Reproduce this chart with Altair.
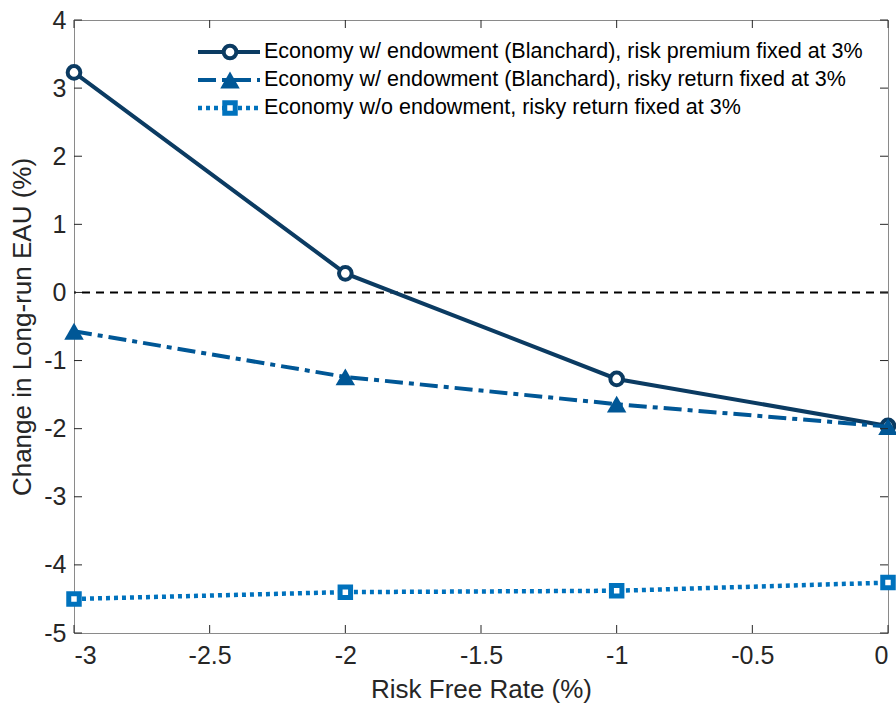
import altair as alt
import pandas as pd

# ---- data ----
rates = [-3, -2, -1, 0]
premium_fixed = [3.23, 0.28, -1.27, -1.96]
risky_fixed = [-0.57, -1.24, -1.64, -1.97]
no_endow = [-4.50, -4.40, -4.38, -4.26]

names = [
    "Economy w/ endowment (Blanchard), risk premium fixed at 3%",
    "Economy w/ endowment (Blanchard), risky return fixed at 3%",
    "Economy w/o endowment, risky return fixed at 3%",
]
colors = ["#0b3b62", "#005796", "#0072bd"]

x_ticks = [-3, -2.5, -2, -1.5, -1, -0.5, 0]
y_ticks = [-5, -4, -3, -2, -1, 0, 1, 2, 3, 4]

W, H = 814, 613
FONT = "Liberation Sans"

xs = alt.Scale(domain=[-3, 0], nice=False, zero=False)
ys = alt.Scale(domain=[-5, 4], nice=False, zero=False)

x_axis = alt.Axis(values=x_ticks, labelExpr="toString(datum.value)", ticks=False,
                  domain=False, grid=False, labelFontSize=25, labelFont=FONT,
                  labelColor="#262626", labelPadding=10, title="Risk Free Rate (%)",
                  titleFontSize=26, titleFont=FONT, titleFontWeight="normal",
                  titleColor="#262626", titlePadding=8)
y_axis = alt.Axis(values=y_ticks, labelExpr="toString(datum.value)", ticks=False,
                  domain=False, grid=False, labelFontSize=25, labelFont=FONT,
                  labelColor="#262626", labelPadding=8, title="Change in Long-run EAU (%)",
                  titleFontSize=26, titleFont=FONT, titleFontWeight="normal",
                  titleColor="#262626", titlePadding=8)

def series_df(vals):
    return pd.DataFrame({"rate": rates, "value": vals})

# zero reference line
zero = alt.Chart(pd.DataFrame({"y": [0]})).mark_rule(
    color="black", strokeWidth=2, strokeDash=[8, 6]
).encode(y=alt.Y("y:Q", scale=ys, axis=y_axis))

base_x = alt.X("rate:Q", scale=xs, axis=x_axis)

layers = [zero]

CIRC, TRI, SQ = 160, 380, 110

# series 1: solid, open circles
d1 = series_df(premium_fixed)
layers.append(alt.Chart(d1).mark_line(color=colors[0], strokeWidth=4).encode(
    x=base_x, y=alt.Y("value:Q", scale=ys)))
layers.append(alt.Chart(d1).mark_point(shape="circle", size=CIRC, filled=False,
    fill="white", fillOpacity=1, color=colors[0], strokeWidth=4, opacity=1).encode(
    x="rate:Q", y="value:Q"))

# series 2: dash-dot, filled triangles
d2 = series_df(risky_fixed)
layers.append(alt.Chart(d2).mark_line(color=colors[1], strokeWidth=4,
    strokeDash=[18, 6, 5, 6]).encode(x="rate:Q", y="value:Q"))
layers.append(alt.Chart(d2).mark_point(shape="triangle-up", size=TRI, filled=True,
    color=colors[1], opacity=1).encode(x="rate:Q", y="value:Q"))

# series 3: dotted, squares
d3 = series_df(no_endow)
layers.append(alt.Chart(d3).mark_line(color=colors[2], strokeWidth=4.5,
    strokeDash=[4, 4]).encode(x="rate:Q", y="value:Q"))
layers.append(alt.Chart(d3).mark_point(shape="square", size=SQ, filled=False,
    fill="white", fillOpacity=1, color=colors[2], strokeWidth=5, opacity=1).encode(
    x="rate:Q", y="value:Q"))

# inward ticks (box style)
tick_col = "#262626"
xt = pd.DataFrame({"t": x_ticks})
yt = pd.DataFrame({"t": y_ticks})
layers.append(alt.Chart(xt).mark_rule(color=tick_col, strokeWidth=1).encode(
    x="t:Q", y=alt.value(H), y2=alt.value(H - 8)))
layers.append(alt.Chart(xt).mark_rule(color=tick_col, strokeWidth=1).encode(
    x="t:Q", y=alt.value(0), y2=alt.value(8)))
layers.append(alt.Chart(yt).mark_rule(color=tick_col, strokeWidth=1).encode(
    y="t:Q", x=alt.value(0), x2=alt.value(8)))
layers.append(alt.Chart(yt).mark_rule(color=tick_col, strokeWidth=1).encode(
    y="t:Q", x=alt.value(W), x2=alt.value(W - 8)))

# manual legend
leg_rows = [32, 60, 88]
leg_x0, leg_x1, leg_m, leg_t = 124, 186, 156, 190
dashes = [[1, 0], [18, 6, 5, 6], [4, 4]]
widths = [4, 4, 4.5]
shapes = ["circle", "triangle-up", "square"]
one = pd.DataFrame({"k": [0]})
for i in range(3):
    yy = leg_rows[i]
    layers.append(alt.Chart(one).mark_rule(color=colors[i], strokeWidth=widths[i],
        strokeDash=dashes[i]).encode(x=alt.value(leg_x0), x2=alt.value(leg_x1),
        y=alt.value(yy)))
    if i == 1:
        pt = alt.Chart(one).mark_point(shape=shapes[i], size=TRI, filled=True,
            color=colors[i], opacity=1)
    else:
        pt = alt.Chart(one).mark_point(shape=shapes[i], size=CIRC if i == 0 else SQ,
            filled=False, fill="white", fillOpacity=1, color=colors[i],
            strokeWidth=4 if i == 0 else 5, opacity=1)
    layers.append(pt.encode(x=alt.value(leg_m), y=alt.value(yy)))
    layers.append(alt.Chart(one).mark_text(text=names[i], align="left",
        baseline="middle", font=FONT, fontSize=21.5, color="#000000").encode(
        x=alt.value(leg_t), y=alt.value(yy)))

chart = alt.layer(*layers).properties(
    width=W, height=H,
    autosize=alt.AutoSizeParams(type="none"),
    padding={"left": 74, "top": 20, "right": 8, "bottom": 71},
    background="white",
).configure_view(stroke="#8a8a8a", strokeWidth=1)

chart.save("out.html", embed_options={"renderer": "svg", "actions": False})
